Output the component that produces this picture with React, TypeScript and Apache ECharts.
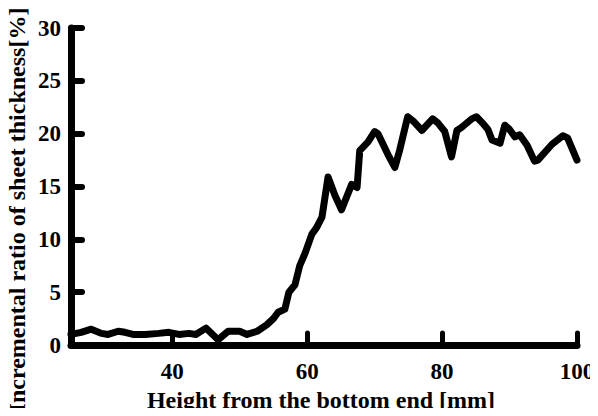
import React, { useEffect, useRef } from "react";
import * as echarts from "echarts";

const heights = [
  25, 26.5, 28, 29.5, 30.5, 32, 33, 34.2, 36, 38, 39.5, 41, 42.5, 43.5, 45, 46.8, 48.3, 50, 51.1, 52.6,
  54, 55, 55.7, 56.7, 57.3, 58.2, 58.9, 59.7, 60.7, 61.4, 62.2, 63.1, 64.1, 65.1, 66.6, 67.4, 67.8, 69,
  70, 70.5, 72, 73, 73.7, 74.9, 75.7, 77, 78.6, 79.4, 80.4, 81.4, 82.2, 82.9, 84.4, 85.1, 86, 86.8, 87.4,
  88.6, 89.3, 90, 90.8, 91.5, 92.6, 93.7, 94.2, 96.3, 97.9, 98.6, 100,
];
const ratios = [
  1.0, 1.2, 1.5, 1.1, 1.0, 1.3, 1.2, 1.0, 1.0, 1.1, 1.2, 1.0, 1.1, 1.0, 1.6, 0.5, 1.3, 1.3, 1.0, 1.3,
  1.9, 2.5, 3.1, 3.4, 5.0, 5.7, 7.5, 8.7, 10.5, 11.1, 12.1, 15.9, 14.2, 12.8, 15.2, 14.9, 18.4, 19.2,
  20.2, 20.0, 18.0, 16.8, 18.4, 21.6, 21.2, 20.3, 21.4, 21.0, 20.2, 17.8, 20.3, 20.6, 21.4, 21.6, 21.0,
  20.4, 19.4, 19.1, 20.8, 20.4, 19.7, 19.9, 18.9, 17.4, 17.5, 19.0, 19.8, 19.6, 17.5,
];
const xTickValues = [40, 60, 80, 100];
const xName = "Height from the bottom end [mm]";
const yName = "Incremental ratio of sheet thickness[%]";

const FONT = "'Liberation Serif', 'Times New Roman', serif";

export default function App() {
  const ref = useRef<HTMLDivElement>(null);
  useEffect(() => {
    if (!ref.current) return;
    const chart = echarts.init(ref.current, null, { renderer: "svg" });
    const data = heights.map((h, i) => [h, ratios[i]]);
    chart.setOption({
      animation: false,
      backgroundColor: "#ffffff",
      grid: {
        left: 71,
        right: 21,
        top: 28,
        bottom: 71,
        containLabel: false,
        outerBoundsMode: "none",
      },
      xAxis: {
        type: "value",
        min: 25,
        max: 100,
        axisLine: { show: true, lineStyle: { color: "#000", width: 7, cap: "round" } },
        axisTick: {
          show: true,
          inside: true,
          length: 12,
          customValues: xTickValues,
          lineStyle: { color: "#000", width: 5, cap: "round" },
        },
        axisLabel: {
          show: true,
          customValues: xTickValues,
          margin: 15,
          fontFamily: FONT,
          fontWeight: "bold",
          fontSize: 23,
          color: "#000",
        },
        splitLine: { show: false },
      },
      yAxis: {
        type: "value",
        min: 0,
        max: 30,
        interval: 5,
        axisLine: { show: true, lineStyle: { color: "#000", width: 7, cap: "round" } },
        axisTick: {
          show: true,
          inside: true,
          length: 11,
          lineStyle: { color: "#000", width: 6, cap: "round" },
        },
        axisLabel: {
          show: true,
          margin: 10,
          fontFamily: FONT,
          fontWeight: "bold",
          fontSize: 23,
          color: "#000",
        },
        splitLine: { show: false },
      },
      graphic: [
        {
          type: "text",
          x: 17,
          y: 210,
          rotation: Math.PI / 2,
          style: {
            text: yName,
            fontFamily: FONT,
            fontWeight: "bold",
            fontSize: 24,
            fill: "#000",
            textAlign: "center",
            textVerticalAlign: "middle",
          },
        },
        {
          type: "text",
          x: 321,
          y: 400,
          style: {
            text: xName,
            fontFamily: FONT,
            fontWeight: "bold",
            fontSize: 24,
            fill: "#000",
            textAlign: "center",
            textVerticalAlign: "middle",
          },
        },
      ],
      series: [
        {
          type: "line",
          data,
          symbol: "none",
          smooth: false,
          lineStyle: { color: "#000", width: 7, join: "round", cap: "round" },
        },
      ],
    });
    return () => chart.dispose();
  }, []);
  return <div ref={ref} style={{ width: 598, height: 416, margin: -8 }} />;
}
